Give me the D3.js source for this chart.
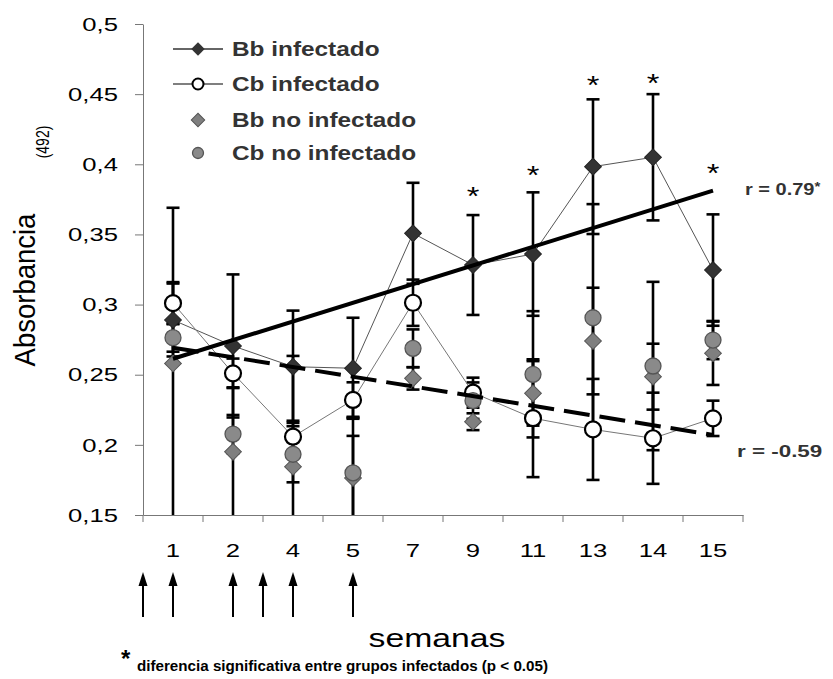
<!DOCTYPE html>
<html>
<head>
<meta charset="utf-8">
<script src="https://cdn.jsdelivr.net/npm/d3@7"></script>
<style>
  body { margin: 0; background: #fff; }
  svg { display: block; }
  text { font-family: "Liberation Sans", Arial, sans-serif; }
</style>
</head>
<body>
<div id="chart"></div>
<script>
// weeks on the category axis
var weeks = ["1", "2", "4", "5", "7", "9", "11", "13", "14", "15"];

// mean absorbance and error per group
var bbInf    = [0.289, 0.2705, 0.2557, 0.2546, 0.3508, 0.3282, 0.336, 0.3983, 0.405, 0.3246];
var bbInfErr = [0.026, 0.051, 0.040, 0.036, 0.036, 0.0356, 0.044, 0.048, 0.045, 0.0397];
var cbInf    = [0.301, 0.251, 0.2058, 0.232, 0.3013, 0.2372, 0.219, 0.211, 0.2047, 0.2189];
var cbInfErr = [0.015, 0.0105, 0.0114, 0.0126, 0.0165, 0.0107, 0.042, 0.036, 0.0325, 0.0126];
var bbNo     = [0.258, 0.195, 0.1844, 0.1764, 0.2474, 0.2165, 0.2367, 0.274, 0.2486, 0.2653];
var bbNoErr  = [0.111, 0.046, 0.079, 0.03, 0.008, 0.006, 0.023, 0.038, 0.0235, 0.0226];
var cbNo     = [0.2764, 0.2077, 0.1933, 0.180, 0.2688, 0.2315, 0.2503, 0.2906, 0.2562, 0.2747];
var cbNoErr  = [0.01, 0.0136, 0.02, 0.04, 0.0135, 0.013, 0.045, 0.081, 0.06, 0.0136];

var yTicks = [0.15, 0.2, 0.25, 0.3, 0.35, 0.4, 0.45, 0.5];

// significance stars (week, height in absorbance units)
var sigWeeks  = ["9", "11", "13", "14", "15"];
var sigLevels = [0.381, 0.396, 0.460, 0.4615, 0.397];

// infection arrows, in category steps from week 1
var arrowSteps = [-0.5, 0, 1, 1.5, 2, 3];

var rLabels = ["r = 0.79", "r = -0.59"];
var legendNames = ["Bb infectado", "Cb infectado", "Bb no infectado", "Cb no infectado"];

var W = 833, H = 679;
var plot = {left: 143, right: 743, top: 24, bottom: 515};
var SX = 1.35; // the original text is a bit wide

var svg = d3.select("#chart").append("svg")
    .attr("width", W)
    .attr("height", H);

var x = d3.scaleBand().domain(weeks).range([plot.left, plot.right]);
var bw = x.bandwidth();
function cx(w) { return x(w) + bw / 2; }

var y = d3.scaleLinear().domain([0.15, 0.5]).range([plot.bottom, plot.top]);

// Y axis
svg.append("g")
    .attr("transform", `translate(${plot.left},0)`)
    .call(d3.axisLeft(y).tickValues(yTicks).tickSize(8).tickSizeOuter(0).tickFormat(""))
    .call(g => g.selectAll("line,path").attr("stroke", "#777"));

svg.append("g").selectAll("text")
  .data(yTicks)
  .join("text")
    .attr("transform", d => `translate(118,${y(d)}) scale(${SX},1)`)
    .attr("dy", "0.35em")
    .attr("text-anchor", "end")
    .style("font-size", "19px")
    .text(d => String(d).replace(".", ","));

// X axis: line + ticks on category boundaries
svg.append("g")
    .attr("transform", `translate(0,${plot.bottom})`)
    .call(d3.axisBottom(x).tickSize(0).tickFormat(""))
    .call(g => g.select("path").attr("stroke", "#777"));

svg.append("g").selectAll("line")
  .data(weeks.map(w => x(w)).concat([plot.right]))
  .join("line")
    .attr("x1", d => d).attr("x2", d => d)
    .attr("y1", plot.bottom).attr("y2", plot.bottom + 7)
    .attr("stroke", "#777");

svg.append("g").selectAll("text")
  .data(weeks)
  .join("text")
    .attr("transform", d => `translate(${cx(d)},557) scale(${SX},1)`)
    .attr("text-anchor", "middle")
    .style("font-size", "19px")
    .text(d => d);

// axis titles
svg.append("text")
    .attr("transform", "translate(35,290) rotate(-90) scale(1,1.1)")
    .attr("text-anchor", "middle")
    .style("font-size", "27.5px")
    .text("Absorbancia");
svg.append("text")
    .attr("transform", "translate(49,142) rotate(-90) scale(1,1.3)")
    .attr("text-anchor", "middle")
    .style("font-size", "14px")
    .text("(492)");

svg.append("text")
    .attr("transform", `translate(437,647) scale(${SX},1)`)
    .attr("text-anchor", "middle")
    .style("font-size", "25px")
    .text("semanas");

// error bars
var series = [
  {vals: bbInf, err: bbInfErr},
  {vals: cbInf, err: cbInfErr},
  {vals: bbNo, err: bbNoErr},
  {vals: cbNo, err: cbNoErr}
];
var bars = [];
series.forEach(function(s) {
  s.vals.forEach(function(v, i) {
    bars.push({w: weeks[i], hi: v + s.err[i], lo: v - s.err[i]});
  });
});

var eb = svg.append("g").attr("stroke", "#000").attr("stroke-width", 2.6);
eb.selectAll("line.stem")
  .data(bars)
  .join("line")
    .attr("class", "stem")
    .attr("x1", d => cx(d.w)).attr("x2", d => cx(d.w))
    .attr("y1", d => y(d.hi))
    .attr("y2", d => y(Math.max(d.lo, 0.15)));
eb.selectAll("line.capHi")
  .data(bars)
  .join("line")
    .attr("class", "capHi")
    .attr("x1", d => cx(d.w) - 6.5).attr("x2", d => cx(d.w) + 6.5)
    .attr("y1", d => y(d.hi)).attr("y2", d => y(d.hi));
eb.selectAll("line.capLo")
  .data(bars.filter(d => d.lo >= 0.15))
  .join("line")
    .attr("class", "capLo")
    .attr("x1", d => cx(d.w) - 6.5).attr("x2", d => cx(d.w) + 6.5)
    .attr("y1", d => y(d.lo)).attr("y2", d => y(d.lo));

// connecting lines for infected groups
var line = d3.line().x((d, i) => cx(weeks[i])).y(d => y(d));
svg.append("path").datum(bbInf)
    .attr("d", line).attr("fill", "none")
    .attr("stroke", "#555").attr("stroke-width", 1);
svg.append("path").datum(cbInf)
    .attr("d", line).attr("fill", "none")
    .attr("stroke", "#777").attr("stroke-width", 1);

// markers
var diamond = d3.symbol(d3.symbolSquare, 140)();

function drawDiamonds(vals, fill, stroke) {
  svg.append("g").selectAll("path")
    .data(vals)
    .join("path")
      .attr("d", diamond)
      .attr("transform", (d, i) => `translate(${cx(weeks[i])},${y(d)}) rotate(45)`)
      .attr("fill", fill)
      .attr("stroke", stroke)
      .attr("stroke-width", 1);
}
function drawCircles(vals, fill, stroke, sw) {
  svg.append("g").selectAll("circle")
    .data(vals)
    .join("circle")
      .attr("cx", (d, i) => cx(weeks[i]))
      .attr("cy", d => y(d))
      .attr("r", 8)
      .attr("fill", fill)
      .attr("stroke", stroke)
      .attr("stroke-width", sw);
}
drawDiamonds(bbInf, "#333", "#222");
drawCircles(cbInf, "#fff", "#000", 2.2);
drawDiamonds(bbNo, "#7f7f7f", "#555");
drawCircles(cbNo, "#8a8a8a", "#555", 1.3);

// linear trend lines over the category index
function fit(vals) {
  var n = vals.length, xs = d3.range(1, n + 1);
  var mx = d3.mean(xs), my = d3.mean(vals);
  var sxy = d3.sum(xs, (t, i) => (t - mx) * (vals[i] - my));
  var sxx = d3.sum(xs, t => (t - mx) * (t - mx));
  var b = sxy / sxx;
  return [my - b * mx + b * 1, my - b * mx + b * n];
}
var tBb = fit(bbInf), tCb = fit(cbInf);
var x0 = cx(weeks[0]), x1 = cx(weeks[weeks.length - 1]);
svg.append("line")
    .attr("x1", x0).attr("x2", x1)
    .attr("y1", y(tBb[0])).attr("y2", y(tBb[1]))
    .attr("stroke", "#000").attr("stroke-width", 4);
svg.append("line")
    .attr("x1", x0).attr("x2", x1)
    .attr("y1", y(tCb[0])).attr("y2", y(tCb[1]))
    .attr("stroke", "#000").attr("stroke-width", 4)
    .attr("stroke-dasharray", "26,10");

// r labels
var r1 = svg.append("text")
    .attr("transform", "translate(745,195) scale(1.25,1)")
    .style("font-size", "16px").style("font-weight", "bold").attr("fill", "#333")
    .text(rLabels[0]);
r1.append("tspan").attr("dy", -4).style("font-size", "12px").text("*");
svg.append("text")
    .attr("transform", "translate(737,457) scale(1.4,1)")
    .style("font-size", "16px").style("font-weight", "bold").attr("fill", "#333")
    .text(rLabels[1]);

// significance stars
svg.append("g").selectAll("text")
  .data(sigWeeks)
  .join("text")
    .attr("transform", (d, i) => `translate(${cx(d)},${y(sigLevels[i]) + 14}) scale(1.3,1)`)
    .attr("text-anchor", "middle")
    .style("font-size", "25px")
    .text("*");

// legend
var legY = [49, 84, 120, 153];
var leg = svg.append("g");
leg.append("line").attr("x1", 173).attr("x2", 223).attr("y1", legY[0]).attr("y2", legY[0])
    .attr("stroke", "#333").attr("stroke-width", 1.3);
leg.append("line").attr("x1", 173).attr("x2", 223).attr("y1", legY[1]).attr("y2", legY[1])
    .attr("stroke", "#555").attr("stroke-width", 1.3);
leg.append("path").attr("d", d3.symbol(d3.symbolSquare, 90)())
    .attr("transform", `translate(198,${legY[0]}) rotate(45)`).attr("fill", "#333");
leg.append("circle").attr("cx", 198).attr("cy", legY[1]).attr("r", 5.5)
    .attr("fill", "#fff").attr("stroke", "#000").attr("stroke-width", 2);
leg.append("path").attr("d", d3.symbol(d3.symbolSquare, 90)())
    .attr("transform", `translate(198,${legY[2]}) rotate(45)`).attr("fill", "#7f7f7f").attr("stroke", "#555");
leg.append("circle").attr("cx", 198).attr("cy", legY[3]).attr("r", 5.5)
    .attr("fill", "#8a8a8a").attr("stroke", "#555").attr("stroke-width", 1.3);
leg.selectAll("text")
  .data(legendNames)
  .join("text")
    .attr("transform", (d, i) => `translate(232,${legY[i] + 7}) scale(1.25,1)`)
    .style("font-size", "19.5px").style("font-weight", "bold").attr("fill", "#333")
    .text(d => d);

// infection arrows
var arrows = svg.append("g");
arrowSteps.forEach(function(s) {
  var ax = cx(weeks[0]) + s * bw;
  arrows.append("line")
      .attr("x1", ax).attr("x2", ax).attr("y1", 584).attr("y2", 617)
      .attr("stroke", "#000").attr("stroke-width", 2);
  arrows.append("path")
      .attr("d", `M${ax},572 L${ax + 4.5},586 L${ax - 4.5},586 Z`)
      .attr("fill", "#000");
});

// footnote
svg.append("text")
    .attr("x", 121).attr("y", 667)
    .style("font-size", "24px").style("font-weight", "bold")
    .text("*");
var foot = svg.append("text")
    .attr("x", 137).attr("y", 671)
    .style("font-size", "15px").style("font-weight", "bold")
    .text("diferencia significativa entre grupos infectados (p < 0.05)");
foot.attr("textLength", 411).attr("lengthAdjust", "spacingAndGlyphs");
</script>
</body>
</html>
